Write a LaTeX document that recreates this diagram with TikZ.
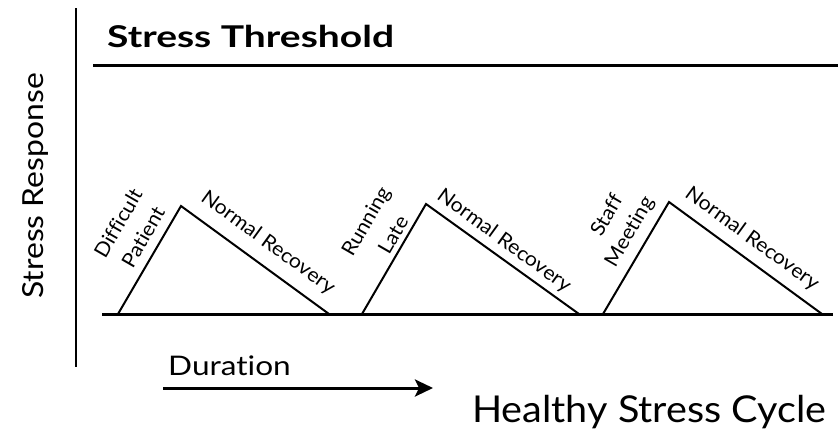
\documentclass[tikz,border=0pt]{standalone}
\usepackage{fontspec}
\setmainfont{Lato}[Ligatures=NoCommon]
\usetikzlibrary{arrows.meta}
\newcommand{\wide}[2]{\scalebox{#1}[1]{#2}}
\begin{document}
\begin{tikzpicture}[x=1pt,y=-1pt,
  axisline/.style={line width=2pt},
  heavyline/.style={line width=3pt},
  tri/.style={line width=2pt, line join=miter},
  lbl/.style={font=\fontsize{20}{20}\selectfont, inner sep=0pt},
  uplbl/.style={lbl, rotate=60},
  downlbl/.style={lbl, rotate=-36}]
\useasboundingbox (0,0) rectangle (838,437);
% axes
\coordinate (ytop) at (76,8);
\coordinate (ybot) at (76,367);
\draw[axisline] (ytop) -- (ybot);
\coordinate (thL) at (93,65);
\coordinate (thR) at (838,65);
\draw[heavyline] (thL) -- (thR);
\coordinate (bL) at (102,314);
\coordinate (bR) at (833,314);
\draw[heavyline] (bL) -- (bR);
% titles
\node[anchor=base west, inner sep=0pt, font=\fontsize{30}{30}\selectfont\bfseries] (thr) at (107,47) {\wide{1.3}{Stress Threshold}};
\node[anchor=base, rotate=90, inner sep=0pt, font=\fontsize{29}{29}\selectfont] (resp) at (43,186) {\wide{1.1}{Stress Response}};
\node[anchor=base west, inner sep=0pt, font=\fontsize{27}{27}\selectfont] (dur) at (168,375) {\wide{1.17}{Duration}};
\node[anchor=base west, inner sep=0pt, font=\fontsize{37}{37}\selectfont] (cyc) at (472,422) {\wide{1.07}{Healthy Stress Cycle}};
% duration arrow
\coordinate (d0) at (163,388);
\coordinate (d1) at (433,388);
\draw[line width=3pt, -{Stealth[length=18pt,width=17pt,inset=4pt]}] (d0) -- (d1);
% triangles
\coordinate (a1) at (118,314); \coordinate (p1) at (181,206); \coordinate (e1) at (329,314);
\coordinate (a2) at (362,314); \coordinate (p2) at (426,204); \coordinate (e2) at (579,314);
\coordinate (a3) at (603,314); \coordinate (p3) at (669,202); \coordinate (e3) at (822,314);
\draw[tri] (a1) -- (p1) -- (e1);
\draw[tri] (a2) -- (p2) -- (e2);
\draw[tri] (a3) -- (p3) -- (e3);
% labels
\node[uplbl] (l1a) at (118,223) {\wide{1.06}{Difficult}};
\node[uplbl] (l1b) at (143,237) {\wide{1.06}{Patient}};
\node[downlbl] (r1) at (268,243) {\wide{1.06}{Normal Recovery}};
\node[uplbl] (l2a) at (367,222) {\wide{1.06}{Running}};
\node[uplbl] (l2b) at (393,235) {\wide{1.06}{Late}};
\node[downlbl] (r2) at (504,241) {\wide{1.06}{Normal Recovery}};
\node[uplbl] (l3a) at (606,215) {\wide{1.06}{Staff}};
\node[uplbl] (l3b) at (630,232) {\wide{1.06}{Meeting}};
\node[downlbl] (r3) at (752,239) {\wide{1.06}{Normal Recovery}};
\end{tikzpicture}
\end{document}
